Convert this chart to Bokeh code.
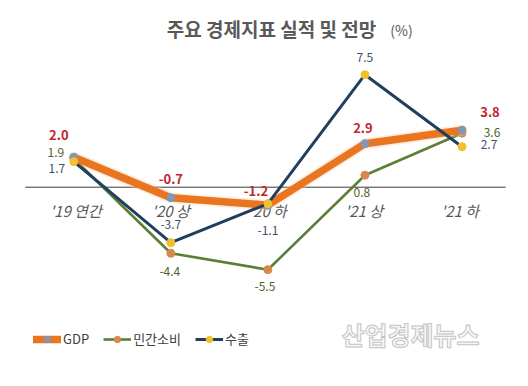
from bokeh.plotting import figure
from bokeh.models import Range1d, Legend, LegendItem, Label
from bokeh.core.properties import value
from bokeh.embed import file_html
from bokeh.resources import INLINE

# ---- data ----
categories = ["'19 연간", "'20 상", "'20 하", "'21 상", "'21 하"]
gdp = [2.0, -0.7, -1.2, 2.9, 3.8]
consumption = [1.9, -4.4, -5.5, 0.8, 3.6]
exports = [1.7, -3.7, -1.1, 7.5, 2.7]
series_names = ["GDP", "민간소비", "수출"]
title_text = "주요 경제지표 실적 및 전망"
unit_text = "(%)"
watermark_text = "산업경제뉴스"

# ---- layout / style ----
W, H = 512, 370
X0, DX = 73.3, 97.05     # pixel of first category, category spacing
Y0, DY = 186.7, 15.0     # pixel of zero line, pixels per unit
FONT = "Noto Sans CJK KR"


def xd(px):
    return (px - X0) / DX


def yd(py):
    return (Y0 - py) / DY


p = figure(width=W, height=H, output_backend="svg", toolbar_location=None,
           x_range=Range1d(xd(0), xd(W)), y_range=Range1d(yd(H), yd(0)),
           x_axis_location=None, y_axis_location=None, min_border=0,
           outline_line_color=None, background_fill_color="white")
p.grid.visible = False

xs = list(range(len(categories)))

# zero line across the category band
p.line(x=[xs[0] - 0.5, xs[-1] + 0.45], y=[0, 0], line_color="#3a3a3a", line_width=1)

# category labels just under the zero line
p.text(x=xs, y=[0] * len(xs), text=categories, y_offset=23,
       x_offset=[2, 0, 0, -1, -2],
       text_align="center", text_baseline="middle",
       text_font=value(FONT), text_font_size="15px", text_font_style="italic",
       text_color="#595959")

# consumption (green line, orange dots)
c_line = p.line(xs, consumption, line_color="#5B7F35", line_width=2.6, line_join="round")
c_pts = p.scatter(xs, consumption, size=8, fill_color="#D9884C", line_color="#D9884C")

# GDP (thick orange line with soft glow, blue-grey dots)
p.line(xs, gdp, line_color="#F8CBAD", line_width=11, line_alpha=0.35,
       line_join="round", line_cap="round")
g_line = p.line(xs, gdp, line_color="#EA7520", line_width=7.5,
                line_join="round", line_cap="round")
g_pts = p.scatter(xs, gdp, size=8, fill_color="#8497B0", line_color="#8497B0")

# exports (navy line, yellow dots)
e_line = p.line(xs, exports, line_color="#203F5E", line_width=3, line_join="round")
e_pts = p.scatter(xs, exports, size=8, fill_color="#F2C02E", line_color="#F2C02E")

# value labels (offsets in screen pixels)
gdp_dx = [-15, 0, -12, -2, 28]
gdp_dy = [-22, -19, -14, -16, -18]
con_dx = [-18, -1, -3, -3, 30]
con_dy = [-6, 18, 17, 17, -1]
exp_dx = [-17, 0, 0, 0, 27]
exp_dy = [7, -18, 27, -17, -2]

p.text(x=xs, y=gdp, text=[f"{v:.1f}" for v in gdp], x_offset=gdp_dx, y_offset=gdp_dy,
       text_align="center", text_baseline="middle", text_font=value(FONT),
       text_font_size="13px", text_font_style="bold", text_color="#C0262D")
p.text(x=xs, y=consumption, text=[f"{v:.1f}" for v in consumption],
       x_offset=con_dx, y_offset=con_dy,
       text_align="center", text_baseline="middle", text_font=value(FONT),
       text_font_size="12px", text_color="#4E6228")
p.text(x=xs, y=exports, text=[f"{v:.1f}" for v in exports],
       x_offset=exp_dx, y_offset=exp_dy,
       text_align="center", text_baseline="middle", text_font=value(FONT),
       text_font_size="12px", text_color="#3B4F66")

# title
p.add_layout(Label(x=xd(271), y=yd(28), text=title_text, text_align="center",
                   text_baseline="middle", text_font=FONT, text_font_size="19px",
                   text_font_style="bold", text_color="#595959"))
p.add_layout(Label(x=xd(401), y=yd(29), text=unit_text, text_align="center",
                   text_baseline="middle", text_font=FONT, text_font_size="14px",
                   text_color="#595959"))

# watermark
p.add_layout(Label(x=xd(410), y=yd(333), text=watermark_text, text_align="center",
                   text_baseline="middle", text_font=FONT, text_font_size="25px",
                   text_font_style="bold", text_color="#F6F6F6",
                   text_outline_color="#C4C4C4"))

legend = Legend(items=[
    LegendItem(label=series_names[0], renderers=[g_line, g_pts]),
    LegendItem(label=series_names[1], renderers=[c_line, c_pts]),
    LegendItem(label=series_names[2], renderers=[e_line, e_pts]),
], orientation="horizontal", location=(33, 22), glyph_width=28, glyph_height=16,
    label_standoff=2, spacing=14, padding=0, margin=0, border_line_color=None,
    background_fill_alpha=0, label_text_font=FONT, label_text_font_size="13px",
    label_text_color="#404040", label_height=16)
p.add_layout(legend, "center")

open("out.html", "w").write(file_html(p, INLINE))
